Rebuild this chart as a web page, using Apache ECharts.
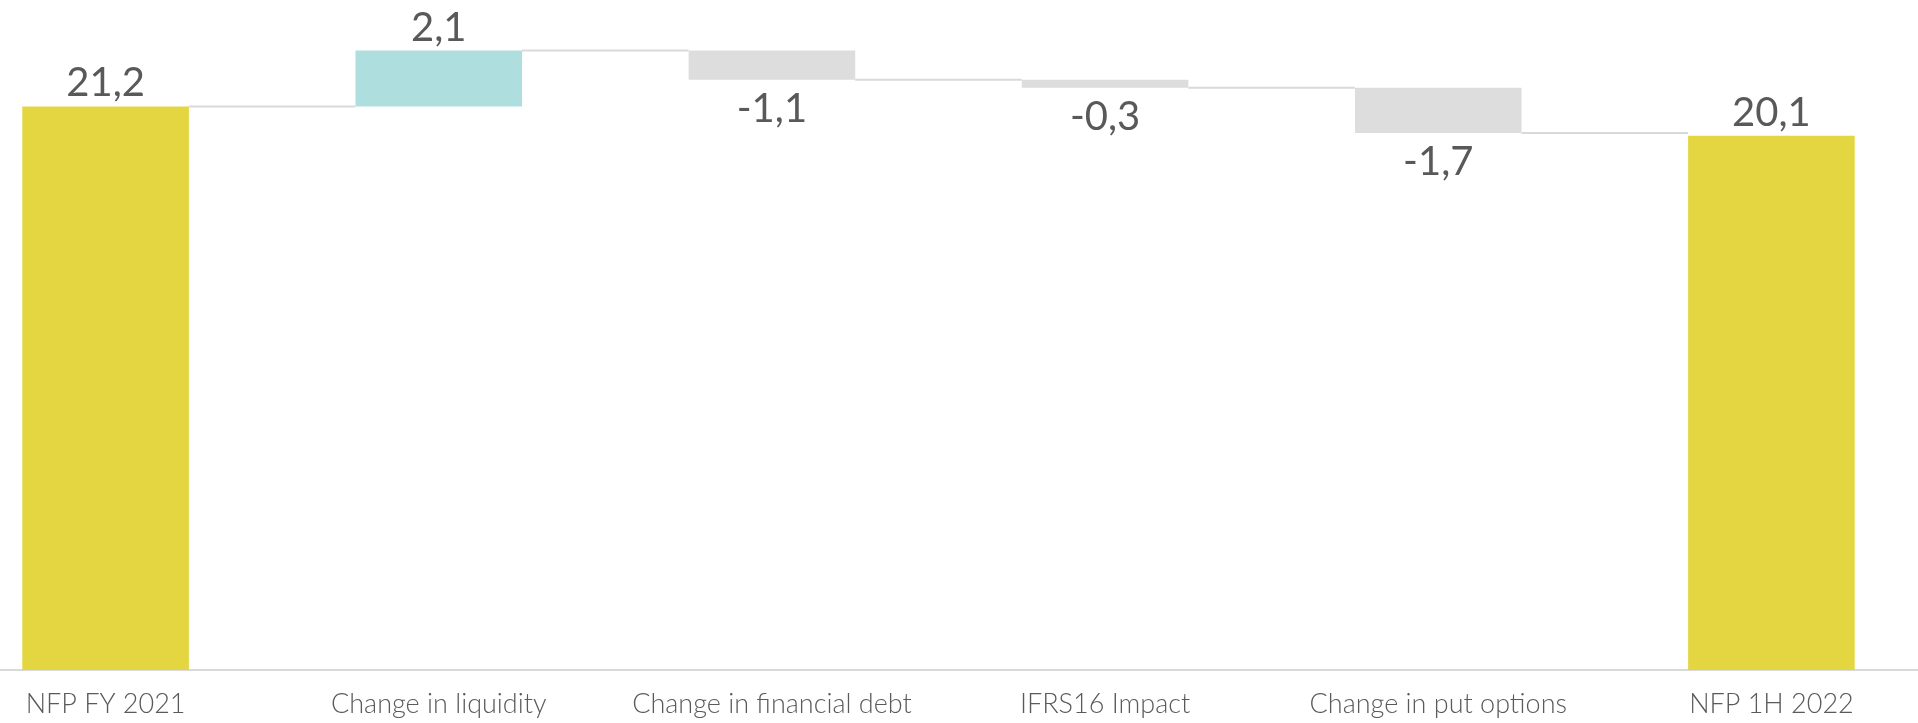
<!DOCTYPE html>
<html>
<head>
<meta charset="utf-8">
<script src="https://cdn.jsdelivr.net/npm/echarts@6/dist/echarts.min.js"></script>
<style>
  html, body { margin: 0; padding: 0; background: #ffffff; }
  #chart { width: 1918px; height: 723px; }
</style>
</head>
<body>
<div id="chart"></div>
<script>
// Net financial position bridge (waterfall)
const categories = ['NFP FY 2021', 'Change in liquidity', 'Change in financial debt', 'IFRS16 Impact', 'Change in put options', 'NFP 1H 2022'];
const values = [21.2, 2.1, -1.1, -0.3, -1.7, 20.1];
const kinds = ['total', 'delta', 'delta', 'delta', 'delta', 'total'];

const COLORS = { total: '#E3D640', up: '#AFDEDE', down: '#DDDDDD' };

// Build invisible base + visible segment for each step, and connector levels
const baseData = [];
const barData = [];
const connectors = [];
let running = 0;
values.forEach((v, i) => {
  let base, height, color;
  if (kinds[i] === 'total') {
    base = 0; height = v; running = v; color = COLORS.total;
  } else if (v >= 0) {
    base = running; height = v; running = +(running + v).toFixed(2); color = COLORS.up;
  } else {
    base = +(running + v).toFixed(2); height = -v; running = base; color = COLORS.down;
  }
  baseData.push(base);
  barData.push({
    value: height,
    itemStyle: { color: color },
    label: {
      position: v < 0 ? 'bottom' : 'top',
      distance: v < 0 ? 9 : 3
    }
  });
  if (i < values.length - 1) connectors.push([i, running]);
});

const fmt = (v) => String(v).replace('.', ',');

const chart = echarts.init(document.getElementById('chart'));
chart.setOption({
  animation: false,
  grid: { left: -61, right: -20, top: 32, bottom: 53, outerBoundsMode: 'none', containLabel: false },
  xAxis: {
    type: 'category',
    data: categories,
    axisLine: { lineStyle: { color: '#D9D9D9', width: 2 } },
    axisTick: { show: false },
    axisLabel: {
      color: '#5A5A5A',
      fontFamily: 'Lato',
      fontWeight: 300,
      fontSize: 27,
      margin: 21,
      interval: 0
    }
  },
  yAxis: {
    type: 'value',
    min: 0,
    max: 24,
    show: false,
    splitLine: { show: false }
  },
  series: [
    {
      type: 'bar',
      stack: 'wf',
      barWidth: '50%',
      itemStyle: { color: 'transparent' },
      data: baseData,
      silent: true
    },
    {
      type: 'bar',
      stack: 'wf',
      barWidth: '50%',
      data: barData,
      label: {
        show: true,
        color: '#595959',
        fontFamily: 'Lato',
        fontWeight: 400,
        fontSize: 40,
        formatter: (p) => fmt(values[p.dataIndex])
      }
    },
    {
      type: 'custom',
      data: connectors,
      z: 1,
      renderItem: function (params, api) {
        const i = api.value(0);
        const lvl = api.value(1);
        const p1 = api.coord([i, lvl]);
        const p2 = api.coord([i + 1, lvl]);
        const half = api.size([1, 0])[0] * 0.25;
        return {
          type: 'line',
          shape: { x1: p1[0] + half, y1: p1[1], x2: p2[0] - half, y2: p2[1] },
          style: { stroke: '#D9D9D9', lineWidth: 2 }
        };
      }
    }
  ]
});
</script>
</body>
</html>
